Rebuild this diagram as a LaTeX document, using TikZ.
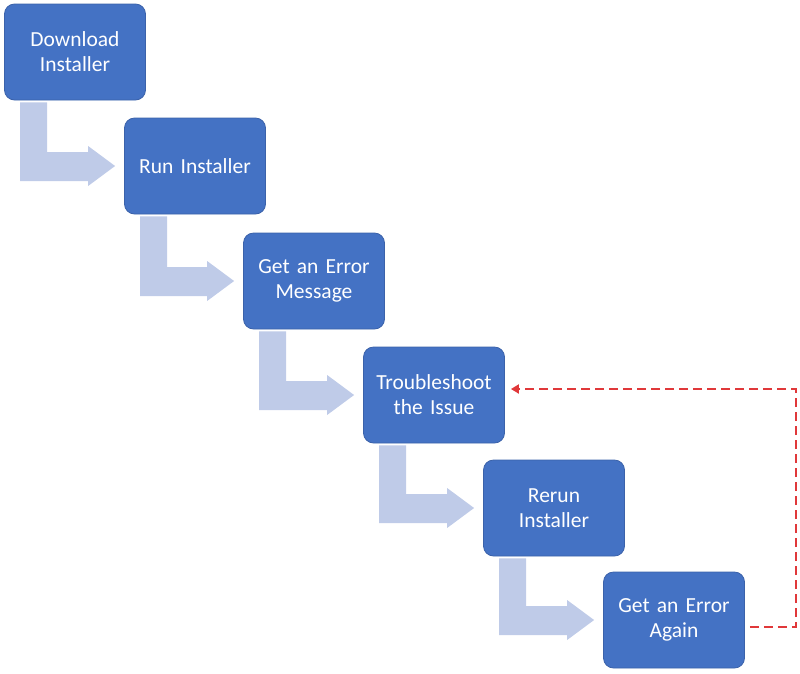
\documentclass[tikz,border=0pt]{standalone}
\usepackage{fontspec}
\setmainfont{Carlito}
\usetikzlibrary{calc,arrows.meta}
\definecolor{boxblue}{HTML}{4472C4}
\definecolor{boxedge}{HTML}{3B62AA}
\definecolor{flowblue}{HTML}{BFCBE8}
\definecolor{backred}{HTML}{E0383A}
\tikzset{
  stepbox/.style={draw=boxedge, line width=0.8pt, fill=boxblue, rounded corners=10pt,
    minimum width=141pt, minimum height=96pt, text width=135pt, align=center,
    text=white, font=\fontsize{21.5}{25}\selectfont, inner sep=0pt},
  flow/.style={fill=flowblue},
  backline/.style={draw=backred, line width=2.6pt, dash pattern=on 9pt off 5pt,
    -{Triangle[length=8pt,width=9pt]}}
}
\begin{document}
\begin{tikzpicture}[x=1pt,y=1pt]
\useasboundingbox (0,0) rectangle (800,-673);

\node[stepbox] (dl) at (75,-52) {Download\\Installer};
\node[stepbox] (run) at (195,-166) {Run Installer};
\node[stepbox] (msg) at (314,-281) {Get an Error\\Message};
\node[stepbox] (fix) at (434,-395) {Troubleshoot\\the Issue};
\node[stepbox] (rerun) at (554,-508) {Rerun\\Installer};
\node[stepbox] (again) at (674,-620) {Get an Error\\Again};

\foreach \a/\b in {dl/run,run/msg,msg/fix,fix/rerun,rerun/again}
  \fill[flow] let \p1 = (\a.south west), \p2 = (\b.west) in
    (\x1+16pt,\y1-2pt) -- (\x1+43pt,\y1-2pt) -- (\x1+43pt,\y2+14pt)
    -- (\x2-36pt,\y2+14pt) -- (\x2-36pt,\y2+20pt) -- (\x2-9pt,\y2)
    -- (\x2-36pt,\y2-20pt) -- (\x2-36pt,\y2-15pt) -- (\x1+16pt,\y2-15pt) -- cycle;

\coordinate (back) at (796,-389);
\path[backline] ([shift={(5pt,-7pt)}]again.east) -| (back) -- ([shift={(6pt,6pt)}]fix.east);
\end{tikzpicture}
\end{document}
